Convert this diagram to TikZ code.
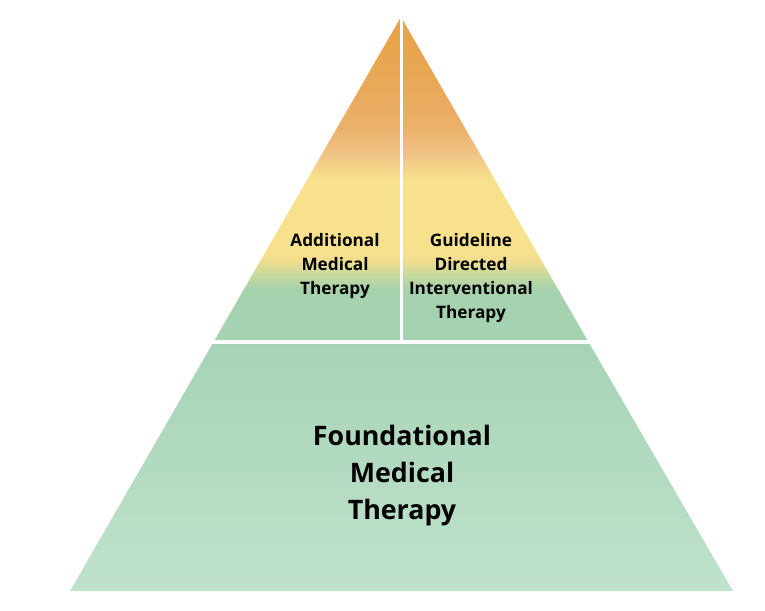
\documentclass[tikz,border=0pt]{standalone}
\usepackage{fontspec}
\setmainfont{Open Sans}
\definecolor{gA}{HTML}{A5D2B2}
\definecolor{gB}{HTML}{A6D2AE}
\definecolor{gC}{HTML}{C9D99D}
\definecolor{yB}{HTML}{F1DE8E}
\definecolor{yA}{HTML}{F8E18C}
\definecolor{pA}{HTML}{F0C385}
\definecolor{oB}{HTML}{EBB06A}
\definecolor{oA}{HTML}{E9A858}
\definecolor{oT}{HTML}{E8A243}
\definecolor{bB}{HTML}{C0E2CD}
\definecolor{bT}{HTML}{A6D3B5}
\pgfdeclareverticalshading{topgrad}{100bp}{
 color(0bp)=(gA);
 color(25bp)=(gA);
 color(33bp)=(gB);
 color(35.5bp)=(gC);
 color(37.5bp)=(yB);
 color(40bp)=(yA);
 color(50bp)=(yA);
 color(54bp)=(pA);
 color(58bp)=(oB);
 color(65bp)=(oA);
 color(75bp)=(oT);
 color(100bp)=(oT)}
\pgfdeclareverticalshading{botgrad}{100bp}{
 color(0bp)=(bB);
 color(25bp)=(bB);
 color(75bp)=(bT);
 color(100bp)=(bT)}
\tikzset{
 small/.style={font=\bfseries\fontsize{17.2}{24}\selectfont, align=center, text=black},
 big/.style={font=\bfseries\fontsize{26.8}{37}\selectfont, align=center, text=black},
 gap/.style={draw=white, line width=3.5pt}
}
\begin{document}
\begin{tikzpicture}[x=1pt,y=-1pt]
\useasboundingbox (0,0) rectangle (765,610);
% top triangle
\shade[shading=topgrad] (401,17) -- (588.5,342) -- (213.5,342) -- cycle;
% bottom trapezoid
\shade[shading=botgrad] (213.5,342) -- (588.5,342) -- (733,591) -- (70,591) -- cycle;
% gaps
\coordinate (apex) at (401.5,10);
\coordinate (mid) at (401.5,342);
\coordinate (hl) at (200,342);
\coordinate (hr) at (600,342);
\draw[gap] (apex) -- (mid);
\draw[gap] (hl) -- (hr);
% labels
\node[small] (amt) at (335,266) {Additional\\Medical\\Therapy};
\node[small] (gdit) at (471,278) {Guideline\\Directed\\Interventional\\Therapy};
\node[big] (fmt) at (402,476) {Foundational\\Medical\\Therapy};
\end{tikzpicture}
\end{document}
